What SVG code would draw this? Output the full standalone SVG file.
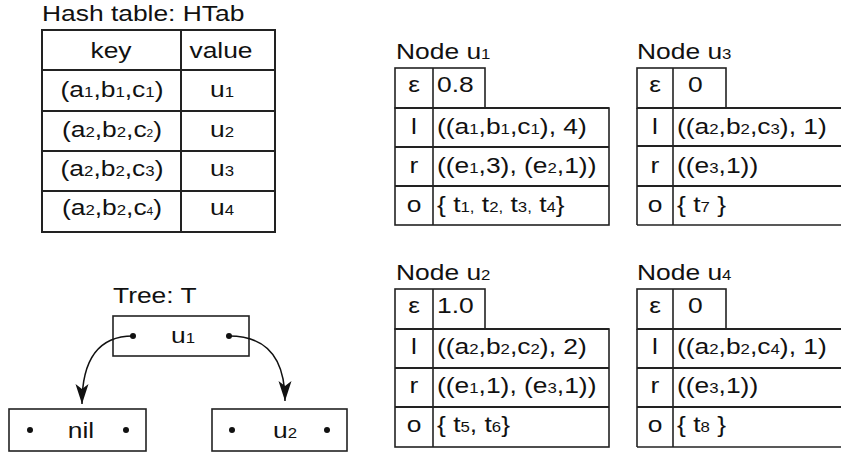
<svg xmlns="http://www.w3.org/2000/svg" width="841" height="453" viewBox="0 0 841 453">
<style>
.t{font-family:"Liberation Sans",Arial,sans-serif;font-size:22px;fill:#111}
.m{text-anchor:middle}
.s{font-size:14px}
.xs{font-size:10px}
.ln{fill:none;stroke:#222;stroke-width:1.6}
.hl{fill:none;stroke:#222;stroke-width:2}
.dot{fill:#111}
.arr{fill:none;stroke:#111;stroke-width:1.5}
</style>
<defs>
<marker id="ah" markerUnits="userSpaceOnUse" markerWidth="22" markerHeight="16" viewBox="-1 -8 22 16" refX="20" refY="0" orient="auto">
<path d="M0,-6.5 L20,0 L0,6.5 L5,0 z" fill="#111"/>
</marker>
</defs>
<rect width="841" height="453" fill="#fff"/>

<g id="hashtable">
<text class="t" transform="translate(42,21) scale(1.2,1)">Hash table: HTab</text>
<rect class="hl" x="42" y="30" width="233" height="202"/>
<line class="hl" x1="181" y1="30" x2="181" y2="232"/>
<line class="hl" x1="42" y1="70" x2="275" y2="70"/>
<line class="hl" x1="42" y1="111" x2="275" y2="111"/>
<line class="hl" x1="42" y1="151" x2="275" y2="151"/>
<line class="hl" x1="42" y1="191" x2="275" y2="191"/>
<text class="t m" transform="translate(111,58) scale(1.2,1)">key</text>
<text class="t m" transform="translate(221,58) scale(1.2,1)">value</text>
<text class="t m" transform="translate(112,97) scale(1.2,1)">(a<tspan class="s">1</tspan>,b<tspan class="s">1</tspan>,c<tspan class="s">1</tspan>)</text>
<text class="t m" transform="translate(112,137) scale(1.2,1)">(a<tspan class="s">2</tspan>,b<tspan class="s">2</tspan>,c<tspan class="xs">2</tspan>)</text>
<text class="t m" transform="translate(112,176) scale(1.2,1)">(a<tspan class="s">2</tspan>,b<tspan class="s">2</tspan>,c<tspan class="s">3</tspan>)</text>
<text class="t m" transform="translate(112,215) scale(1.2,1)">(a<tspan class="s">2</tspan>,b<tspan class="s">2</tspan>,c<tspan class="xs">4</tspan>)</text>
<text class="t m" transform="translate(222,97) scale(1.2,1)">u<tspan class="s">1</tspan></text>
<text class="t m" transform="translate(222,137) scale(1.2,1)">u<tspan class="s">2</tspan></text>
<text class="t m" transform="translate(222,176) scale(1.2,1)">u<tspan class="s">3</tspan></text>
<text class="t m" transform="translate(222,215) scale(1.2,1)">u<tspan class="s">4</tspan></text>
</g>

<g id="node-u1">
<text class="t" transform="translate(396,59) scale(1.2,1)">Node u<tspan class="s">1</tspan></text>
<rect class="ln" x="395" y="68" width="90" height="40"/>
<line class="ln" x1="433" y1="68" x2="433" y2="225"/>
<rect class="ln" x="395" y="108" width="214" height="117"/>
<line class="hl" x1="395" y1="147" x2="609" y2="147"/>
<line class="hl" x1="395" y1="186" x2="609" y2="186"/>
<line class="hl" x1="395" y1="108" x2="609" y2="108"/>
<text class="t m" transform="translate(414,92) scale(1.2,1)">ε</text>
<text class="t" transform="translate(437,92) scale(1.2,1)">0.8</text>
<text class="t m" transform="translate(414,134) scale(1.2,1)">l</text>
<text class="t" transform="translate(437,134) scale(1.2,1)">((a<tspan class="s">1</tspan>,b<tspan class="s">1</tspan>,c<tspan class="s">1</tspan>), 4)</text>
<text class="t m" transform="translate(414,173) scale(1.2,1)">r</text>
<text class="t" transform="translate(437,173) scale(1.2,1)">((e<tspan class="s">1</tspan>,3), (e<tspan class="s">2</tspan>,1))</text>
<text class="t m" transform="translate(414,212) scale(1.2,1)">o</text>
<text class="t" transform="translate(437,212) scale(1.2,1)">{ t<tspan class="s">1,</tspan> t<tspan class="s">2,</tspan> t<tspan class="s">3,</tspan> t<tspan class="s">4</tspan>}</text>
</g>

<g id="node-u3">
<text class="t" transform="translate(637,59) scale(1.2,1)">Node u<tspan class="s">3</tspan></text>
<rect class="ln" x="637" y="68" width="89" height="40"/>
<line class="ln" x1="673" y1="68" x2="673" y2="225"/>
<line class="ln" x1="637" y1="108" x2="637" y2="225"/>
<line class="hl" x1="637" y1="108" x2="850" y2="108"/>
<line class="hl" x1="637" y1="146" x2="850" y2="146"/>
<line class="hl" x1="637" y1="186" x2="850" y2="186"/>
<line class="ln" x1="637" y1="225" x2="850" y2="225"/>
<text class="t m" transform="translate(655,92) scale(1.2,1)">ε</text>
<text class="t" transform="translate(688,92) scale(1.2,1)">0</text>
<text class="t m" transform="translate(655,134) scale(1.2,1)">l</text>
<text class="t" transform="translate(677,134) scale(1.2,1)">((a<tspan class="s">2</tspan>,b<tspan class="s">2</tspan>,c<tspan class="s">3</tspan>), 1)</text>
<text class="t m" transform="translate(655,173) scale(1.2,1)">r</text>
<text class="t" transform="translate(677,173) scale(1.2,1)">((e<tspan class="s">3</tspan>,1))</text>
<text class="t m" transform="translate(655,212) scale(1.2,1)">o</text>
<text class="t" transform="translate(677,212) scale(1.2,1)">{ t<tspan class="s">7</tspan> }</text>
</g>

<g id="node-u2">
<text class="t" transform="translate(396,280) scale(1.2,1)">Node u<tspan class="s">2</tspan></text>
<rect class="ln" x="395" y="289" width="90" height="40"/>
<line class="ln" x1="433" y1="289" x2="433" y2="447"/>
<rect class="ln" x="395" y="329" width="214" height="118"/>
<line class="hl" x1="395" y1="329" x2="609" y2="329"/>
<line class="hl" x1="395" y1="368" x2="609" y2="368"/>
<line class="hl" x1="395" y1="407" x2="609" y2="407"/>
<text class="t m" transform="translate(414,313) scale(1.2,1)">ε</text>
<text class="t" transform="translate(437,313) scale(1.2,1)">1.0</text>
<text class="t m" transform="translate(414,354) scale(1.2,1)">l</text>
<text class="t" transform="translate(437,354) scale(1.2,1)">((a<tspan class="s">2</tspan>,b<tspan class="s">2</tspan>,c<tspan class="s">2</tspan>), 2)</text>
<text class="t m" transform="translate(414,393) scale(1.2,1)">r</text>
<text class="t" transform="translate(437,393) scale(1.2,1)">((e<tspan class="s">1</tspan>,1), (e<tspan class="s">3</tspan>,1))</text>
<text class="t m" transform="translate(414,432) scale(1.2,1)">o</text>
<text class="t" transform="translate(437,432) scale(1.2,1)">{ t<tspan class="s">5</tspan>, t<tspan class="s">6</tspan>}</text>
</g>

<g id="node-u4">
<text class="t" transform="translate(637,280) scale(1.2,1)">Node u<tspan class="s">4</tspan></text>
<rect class="ln" x="637" y="289" width="89" height="40"/>
<line class="ln" x1="673" y1="289" x2="673" y2="447"/>
<line class="ln" x1="637" y1="329" x2="637" y2="447"/>
<line class="hl" x1="637" y1="329" x2="850" y2="329"/>
<line class="hl" x1="637" y1="368" x2="850" y2="368"/>
<line class="hl" x1="637" y1="407" x2="850" y2="407"/>
<line class="ln" x1="637" y1="447" x2="850" y2="447"/>
<text class="t m" transform="translate(655,313) scale(1.2,1)">ε</text>
<text class="t" transform="translate(688,313) scale(1.2,1)">0</text>
<text class="t m" transform="translate(655,354) scale(1.2,1)">l</text>
<text class="t" transform="translate(677,354) scale(1.2,1)">((a<tspan class="s">2</tspan>,b<tspan class="s">2</tspan>,c<tspan class="s">4</tspan>), 1)</text>
<text class="t m" transform="translate(655,393) scale(1.2,1)">r</text>
<text class="t" transform="translate(677,393) scale(1.2,1)">((e<tspan class="s">3</tspan>,1))</text>
<text class="t m" transform="translate(655,432) scale(1.2,1)">o</text>
<text class="t" transform="translate(677,432) scale(1.2,1)">{ t<tspan class="s">8</tspan> }</text>
</g>

<g id="tree-label">
<text class="t" transform="translate(113,303) scale(1.2,1)">Tree: T</text>
</g>

<g id="tree-u1">
<rect class="ln" x="113" y="316" width="136" height="40"/>
<circle class="dot" cx="133" cy="336" r="3"/>
<circle class="dot" cx="229" cy="336" r="3"/>
<text class="t m" transform="translate(183,343) scale(1.2,1)">u<tspan class="s">1</tspan></text>
</g>

<g id="tree-nil">
<rect class="ln" x="9" y="409" width="137" height="42"/>
<circle class="dot" cx="30" cy="430" r="3"/>
<circle class="dot" cx="126" cy="430" r="3"/>
<text class="t m" transform="translate(81,438) scale(1.2,1)">nil</text>
</g>

<g id="tree-u2">
<rect class="ln" x="212" y="409" width="135" height="42"/>
<circle class="dot" cx="232" cy="430" r="3"/>
<circle class="dot" cx="327" cy="430" r="3"/>
<text class="t m" transform="translate(285,438) scale(1.2,1)">u<tspan class="s">2</tspan></text>
</g>

<g id="connectors">
<path class="arr" d="M133,336 C98,336 82,360 82,404" marker-end="url(#ah)"/>
<path class="arr" d="M229,336 C266,336 285,358 285,401" marker-end="url(#ah)"/>
</g>
</svg>
